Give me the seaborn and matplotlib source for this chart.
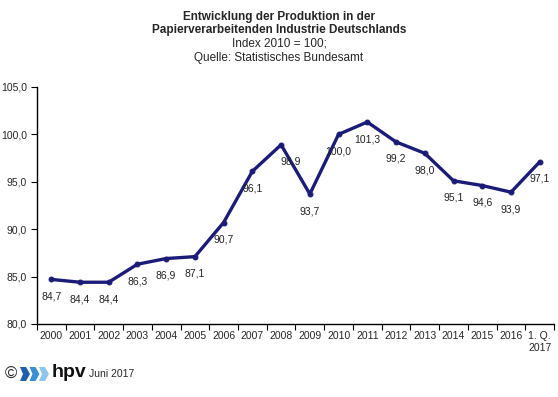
"""
Entwicklung der Produktion in der Papierverarbeitenden Industrie Deutschlands.
"""

import matplotlib
matplotlib.use("Agg")
import matplotlib.pyplot as plt
from matplotlib.patches import Polygon
import seaborn as sns
import pandas as pd

jahre = ["2000", "2001", "2002", "2003", "2004", "2005", "2006", "2007", "2008",
         "2009", "2010", "2011", "2012", "2013", "2014", "2015", "2016", "1. Q.\n2017"]
index_werte = [84.7, 84.4, 84.4, 86.3, 86.9, 87.1, 90.7, 96.1, 98.9,
               93.7, 100.0, 101.3, 99.2, 98.0, 95.1, 94.6, 93.9, 97.1]
y_ticks = [80, 85, 90, 95, 100, 105]

LINE_COLOR = "#1b1b78"
W, H = 558, 397

sns.set_style("white")
plt.rcParams["font.family"] = ["Liberation Sans", "DejaVu Sans"]

df = pd.DataFrame({"pos": range(len(jahre)), "wert": index_werte})

fig = plt.figure(figsize=(W / 100, H / 100), dpi=100)
ax = fig.add_axes([0.066, 0.184, 0.927, 0.597])

sns.lineplot(data=df, x="pos", y="wert", ax=ax, color=LINE_COLOR,
             linewidth=2.4, marker="o", markersize=3.5,
             markeredgecolor=LINE_COLOR)

for i, v in enumerate(index_werte):
    dx = 10 if jahre[i] == "2008" else 0
    ax.annotate(f"{v:.1f}".replace(".", ","), (i, v), xytext=(dx, -17),
                textcoords="offset pixels", ha="center", va="center",
                fontsize=7.5, color="#222222")

ax.set_xlim(-0.5, len(jahre) - 0.5)
ax.set_ylim(80, 105)
ax.set_xticks(range(len(jahre)))
ax.set_xticklabels(jahre, fontsize=7.5)
ax.set_xticks([i - 0.5 for i in range(len(jahre) + 1)], minor=True)
ax.tick_params(axis="x", which="major", length=0, pad=5)
ax.tick_params(axis="x", which="minor", length=4, width=0.8, color="black",
               direction="out", bottom=True)
ax.set_yticks(y_ticks)
ax.set_yticklabels([f"{t:.1f}".replace(".", ",") for t in y_ticks], fontsize=7.5)
ax.tick_params(axis="y", length=4, width=0.8, color="black", direction="out",
               left=True, pad=3)
for lbl in ax.get_xticklabels():
    lbl.set_va("top")
    lbl.set_linespacing(1.3)

ax.set_xlabel("")
ax.set_ylabel("")
for side in ["top", "right"]:
    ax.spines[side].set_visible(False)
for side in ["left", "bottom"]:
    ax.spines[side].set_color("black")
    ax.spines[side].set_linewidth(1.0)

# Titel
titel = [("Entwicklung der Produktion in der", "bold"),
         ("Papierverarbeitenden Industrie Deutschlands", "bold"),
         ("Index 2010 = 100;", "normal"),
         ("Quelle: Statistisches Bundesamt", "normal")]
for k, (txt, wt) in enumerate(titel):
    fig.text(0.5, 1 - (17 + 13.5 * k) / H, txt, ha="center", va="center",
             fontsize=8.5, fontweight=wt)

# Logo / Datum
yc = 1 - 374 / H
fig.text(5 / W, yc, "\u00a9", ha="left", va="center", fontsize=12)
for k, col in enumerate(["#1f5fae", "#3b8fd2", "#8dc5ec"]):
    x0 = 20 + 9.5 * k
    pts = [(x0, 367), (x0 + 6, 367), (x0 + 10, 374), (x0 + 6, 381),
           (x0, 381), (x0 + 3, 374)]
    fig.patches.append(Polygon([(x / W, 1 - y / H) for x, y in pts],
                               closed=True, transform=fig.transFigure,
                               facecolor=col, edgecolor="none"))
fig.text(52 / W, yc + 0.004, "hpv", ha="left", va="center", fontsize=14,
         fontweight="bold", color="#111111")
fig.text(89 / W, yc, "Juni 2017", ha="left", va="center", fontsize=7.5)

fig.savefig("out.png", dpi=100)
